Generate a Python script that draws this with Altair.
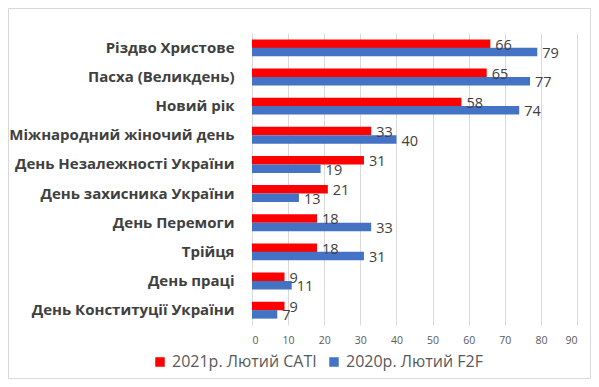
import altair as alt
import pandas as pd

categories = [
    "Різдво Христове",
    "Пасха (Великдень)",
    "Новий рік",
    "Міжнародний жіночий день",
    "День Незалежності України",
    "День захисника України",
    "День Перемоги",
    "Трійця",
    "День праці",
    "День Конституції України",
]
series_names = ["2021р. Лютий CATI", "2020р. Лютий F2F"]
values_2021 = [66, 65, 58, 33, 31, 21, 18, 18, 9, 9]
values_2020 = [79, 77, 74, 40, 19, 13, 33, 31, 11, 7]
x_ticks = [0, 10, 20, 30, 40, 50, 60, 70, 80, 90]
colors = ["#FF0000", "#4472C4"]

rows = []
for c, v1, v2 in zip(categories, values_2021, values_2020):
    rows.append({"cat": c, "series": series_names[0], "value": v1})
    rows.append({"cat": c, "series": series_names[1], "value": v2})
df = pd.DataFrame(rows)

FONT = "Open Sans"

base = alt.Chart(df).encode(
    y=alt.Y("cat:N", sort=categories, title=None,
            scale=alt.Scale(paddingInner=0.42, paddingOuter=0.22),
            axis=alt.Axis(domain=False, ticks=False, labelPadding=18,
                          labelFont=FONT, labelFontSize=15, labelFontWeight="bold",
                          labelColor="#404040", labelLimit=300)),
    yOffset=alt.YOffset("series:N", sort=series_names),
    x=alt.X("value:Q", title=None,
            scale=alt.Scale(domain=[0, 90], nice=False),
            axis=alt.Axis(values=x_ticks, domain=False, ticks=False, labelPadding=10,
                          labelFont=FONT, labelFontSize=10.5, labelColor="#595959",
                          grid=True, gridColor="#D9D9D9")),
)

bars = base.mark_bar(size=8.5).encode(
    color=alt.Color("series:N", sort=series_names,
                    scale=alt.Scale(domain=series_names, range=colors),
                    legend=alt.Legend(title=None, orient="none", direction="horizontal",
                                      legendX=-100, legendY=321, symbolType="square",
                                      symbolSize=90, symbolStrokeWidth=0,
                                      labelFont=FONT, labelFontSize=16,
                                      labelColor="#595959", columnPadding=9,
                                      labelOffset=4, labelLimit=300)),
)

labels = base.mark_text(align="left", baseline="middle", dx=5, dy=2,
                        font=FONT, fontSize=14.5, color="#404040").encode(
    text=alt.Text("value:Q"),
)

border = alt.Chart(pd.DataFrame({"a": [0]})).mark_rect(
    filled=False, fill="transparent", stroke="#D9D9D9", strokeWidth=1
).encode(x=alt.value(-243.5), x2=alt.value(338.5), y=alt.value(-24.5), y2=alt.value(345.5))

chart = alt.layer(border, bars, labels).properties(
    width=325, height=292,
    autosize=alt.AutoSizeParams(type="none"),
    padding={"left": 244, "top": 25, "right": 14, "bottom": 54},
).configure_view(stroke=None)

chart.save("out.html", embed_options={"renderer": "svg", "actions": False})
